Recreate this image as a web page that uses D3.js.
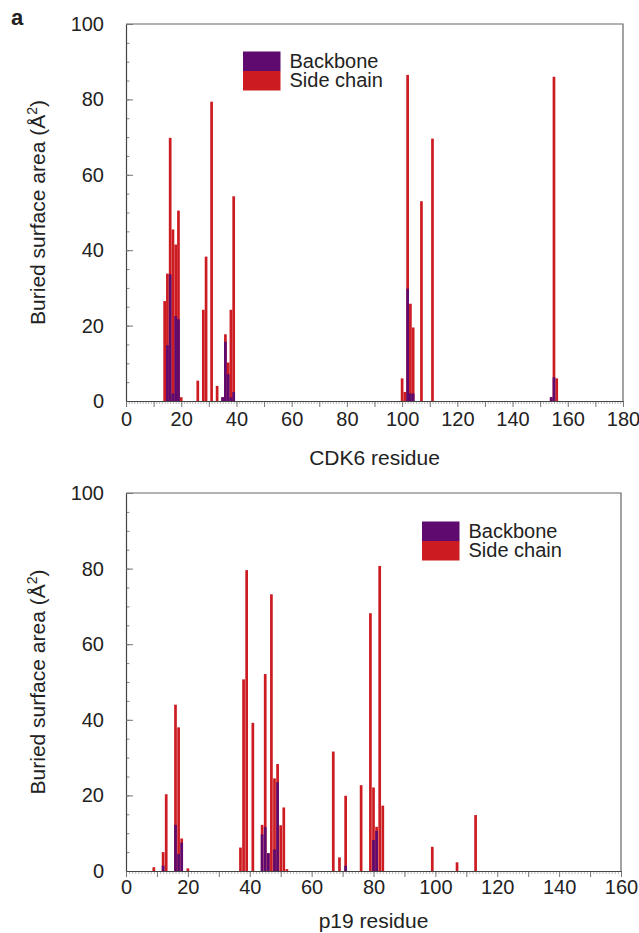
<!DOCTYPE html>
<html>
<head>
<meta charset="utf-8">
<script src="https://cdnjs.cloudflare.com/ajax/libs/d3/7.8.5/d3.min.js"></script>
<style>
  body { margin: 0; background: #fff; }
  svg text { font-family: "Liberation Sans", Arial, Helvetica, sans-serif; fill: #222; }
</style>
</head>
<body>
<div id="chart"></div>
<script>
//CDK6 panel data (residue, backbone and side chain buried area)
const cdk6Residues = [14, 15, 16, 17, 18, 19, 20, 26, 28, 29, 31, 33, 35, 36, 37, 38, 39,
                      100, 101, 102, 103, 104, 107, 111, 154, 155, 156];
const cdk6Backbone = [0, 14.8, 33.6, 2, 22.5, 21.7, 0, 0, 0, 0, 0, 0, 1, 15.7, 7.1, 1, 2.4,
                      0, 0, 29.8, 2, 2, 0, 0, 1, 6.3, 0];
const cdk6SideChain = [26.5, 33.8, 69.8, 45.5, 41.5, 50.5, 1, 5.4, 24.2, 38.3, 79.4, 4, 1, 17.7, 10.2, 24.2, 54.3,
                       6, 2.4, 86.5, 25.8, 19.5, 53, 69.6, 1, 86, 6];

//p19 panel data
const p19Residues = [9, 12, 13, 16, 17, 18, 20, 37, 38, 39, 41, 44, 45, 46, 47, 48, 49, 50, 51, 52,
                     67, 69, 71, 76, 79, 80, 81, 82, 83, 99, 107, 113];
const p19Backbone = [0, 1.4, 0, 12.2, 4.5, 7.5, 0, 0, 0, 0, 0, 9.7, 11.6, 4.7, 0, 5.7, 23.5, 0, 0, 0,
                     0, 0, 1.4, 0, 0, 8.2, 10.6, 0, 0, 0, 0, 0];
const p19SideChain = [1, 5, 20.3, 44, 38, 8.6, 0.7, 6.2, 50.7, 79.6, 39.2, 12.2, 52.1, 4.7, 73.2, 24.5, 28.3, 12.1, 16.8, 0.5,
                      31.6, 3.6, 19.9, 22.7, 68.2, 22.1, 11.7, 80.7, 17.3, 6.4, 2.3, 14.8];

//Ticks and labels
const yTicks = [0, 20, 40, 60, 80, 100];
const cdk6XTicks = [0, 20, 40, 60, 80, 100, 120, 140, 160, 180];
const p19XTicks = [0, 20, 40, 60, 80, 100, 120, 140, 160];
const seriesNames = ['Backbone', 'Side chain'];
const seriesColors = ['#5e0a6e', '#cc1b21'];

const w = 639;
const h = 933;

const svg = d3.select('#chart')
              .append('svg')
              .attr('width', w)
              .attr('height', h);

//Panel letter
svg.append('text')
   .attr('x', 11)
   .attr('y', 25)
   .style('font-size', '22px')
   .style('font-weight', 'bold')
   .text('a');

function drawPanel(p) {
  const xScale = d3.scaleLinear()
                   .domain([0, p.xMax])
                   .range([p.left, p.right]);

  const yScale = d3.scaleLinear()
                   .domain([0, 100])
                   .range([p.bottom, p.top]);

  const rows = p.residues.map((r, i) => ({ r: r, back: p.backbone[i], side: p.side[i] }));
  const barW = 2.7;

  const g = svg.append('g');

  //Side chain bars behind, backbone in front
  g.selectAll('rect.side')
   .data(rows)
   .enter()
   .append('rect')
   .attr('class', 'side')
   .attr('x', d => xScale(d.r) - barW / 2)
   .attr('y', d => yScale(d.side))
   .attr('width', barW)
   .attr('height', d => yScale(0) - yScale(d.side))
   .attr('fill', seriesColors[1]);

  g.selectAll('rect.back')
   .data(rows.filter(d => d.back > 0))
   .enter()
   .append('rect')
   .attr('class', 'back')
   .attr('x', d => xScale(d.r) - barW / 2)
   .attr('y', d => yScale(d.back))
   .attr('width', barW)
   .attr('height', d => yScale(0) - yScale(d.back))
   .attr('fill', seriesColors[0]);

  //Frame (top and right edges)
  g.append('path')
   .attr('d', `M${p.left},${p.top}H${p.right}V${p.bottom}`)
   .attr('fill', 'none')
   .attr('stroke', '#666')
   .attr('stroke-width', 1.2);

  //Y axis: minor ticks every 5, major every 20, pointing inward
  const yMinor = d3.axisLeft(yScale)
                   .tickValues(d3.range(0, 101, 5))
                   .tickSize(-3.5)
                   .tickSizeOuter(0)
                   .tickFormat('');
  const yAxis = d3.axisLeft(yScale)
                  .tickValues(yTicks)
                  .tickSize(-7)
                  .tickSizeOuter(0)
                  .tickPadding(22);

  g.append('g')
   .attr('transform', `translate(${p.left}, 0)`)
   .call(yMinor)
   .call(s => s.select('.domain').remove())
   .call(s => s.selectAll('line').attr('stroke', '#888'));

  g.append('g')
   .attr('transform', `translate(${p.left}, 0)`)
   .call(yAxis)
   .call(s => s.select('.domain').attr('stroke', '#444').attr('stroke-width', 1.2))
   .call(s => s.selectAll('line').attr('stroke', '#777'))
   .call(s => s.selectAll('text').style('font-size', '20px').attr('fill', '#222'));

  //X axis: minor ticks every residue, major every 10
  const xMinor = d3.axisBottom(xScale)
                   .tickValues(d3.range(0, p.xMax + 1, 1))
                   .tickSize(3)
                   .tickSizeOuter(0)
                   .tickFormat('');
  const xMajor = d3.axisBottom(xScale)
                   .tickValues(d3.range(0, p.xMax + 1, 10))
                   .tickSize(6)
                   .tickSizeOuter(0)
                   .tickFormat('');
  const xAxis = d3.axisBottom(xScale)
                  .tickValues(p.xTicks)
                  .tickSize(0)
                  .tickSizeOuter(0)
                  .tickPadding(p.xPad);

  g.append('g')
   .attr('transform', `translate(0, ${p.bottom})`)
   .call(xMinor)
   .call(s => s.select('.domain').remove())
   .call(s => s.selectAll('line').attr('stroke', '#999').attr('stroke-width', 0.7));

  g.append('g')
   .attr('transform', `translate(0, ${p.bottom})`)
   .call(xMajor)
   .call(s => s.select('.domain').remove())
   .call(s => s.selectAll('line').attr('stroke', '#777'));

  g.append('g')
   .attr('transform', `translate(0, ${p.bottom})`)
   .call(xAxis)
   .call(s => s.select('.domain').attr('stroke', '#444').attr('stroke-width', 1.2))
   .call(s => s.selectAll('text').style('font-size', '20px').attr('fill', '#222'));

  //Axis titles
  g.append('text')
   .attr('x', (p.left + p.right) / 2)
   .attr('y', p.titleY)
   .attr('text-anchor', 'middle')
   .style('font-size', '21px')
   .text(p.xTitle);

  const yt = g.append('text')
              .attr('transform', `translate(45, ${(p.top + p.bottom) / 2}) rotate(-90)`)
              .attr('text-anchor', 'middle')
              .style('font-size', '21px');
  yt.append('tspan').text('Buried surface area (Å');
  yt.append('tspan').attr('dy', -8).style('font-size', '14px').text('2');
  yt.append('tspan').attr('dy', 8).text(')');

  //Legend
  const lg = g.append('g')
              .attr('transform', `translate(${p.legendX}, ${p.legendY})`);
  seriesNames.forEach((name, i) => {
    lg.append('rect')
      .attr('x', 0)
      .attr('y', i * 19.5)
      .attr('width', 37.5)
      .attr('height', 19.5)
      .attr('fill', seriesColors[i]);
    lg.append('text')
      .attr('x', 46.5)
      .attr('y', 16.3 + i * 19.6)
      .style('font-size', '20px')
      .text(name);
  });
}

drawPanel({
  residues: cdk6Residues, backbone: cdk6Backbone, side: cdk6SideChain,
  xMax: 180, xTicks: cdk6XTicks, xTitle: 'CDK6 residue',
  left: 126, right: 623, top: 24, bottom: 401, xPad: 11, titleY: 465,
  legendX: 243, legendY: 51.5
});

drawPanel({
  residues: p19Residues, backbone: p19Backbone, side: p19SideChain,
  xMax: 160, xTicks: p19XTicks, xTitle: 'p19 residue',
  left: 126, right: 621, top: 493, bottom: 871, xPad: 9, titleY: 928,
  legendX: 422, legendY: 521.5
});
</script>
</body>
</html>
